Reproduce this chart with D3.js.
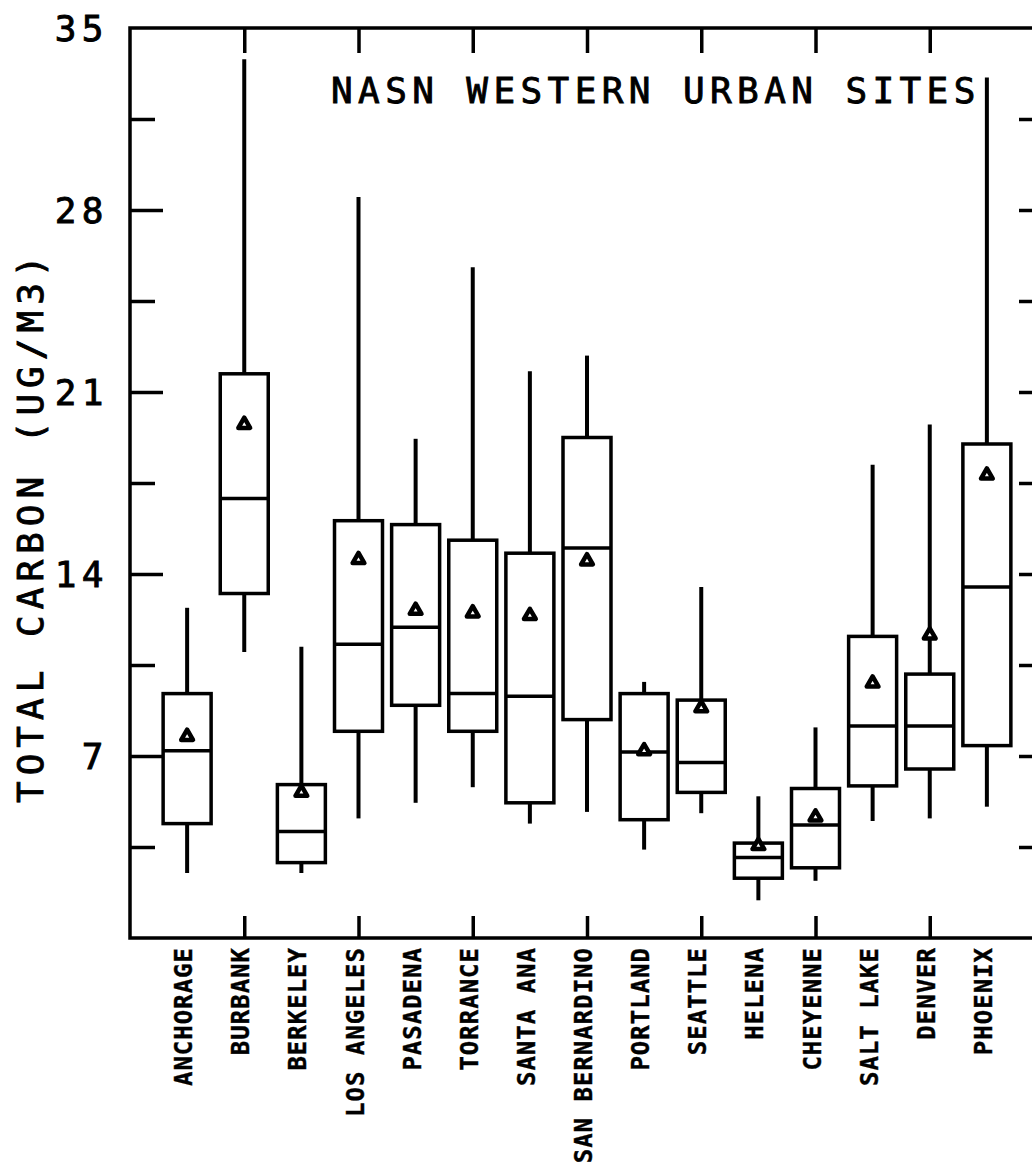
<!DOCTYPE html>
<html>
<head>
<meta charset="utf-8">
<script src="https://cdn.jsdelivr.net/npm/d3@7"></script>
<style>
  html, body { margin: 0; padding: 0; background: #fff; }
  svg { display: block; }
  text { font-family: "DejaVu Sans Mono", "Liberation Mono", monospace; fill: #000; }
</style>
</head>
<body>
<svg id="chart" width="1032" height="1170"></svg>
<script>
// Total carbon (ug/m3) box plots for NASN western urban sites
const sites = ["ANCHORAGE", "BURBANK", "BERKELEY", "LOS ANGELES", "PASADENA", "TORRANCE",
  "SANTA ANA", "SAN BERNARDINO", "PORTLAND", "SEATTLE", "HELENA", "CHEYENNE",
  "SALT LAKE", "DENVER", "PHOENIX"];
const whiskerLow  = [2.5, 11.0, 2.5, 4.6, 5.2, 5.8, 4.4, 4.85, 3.4, 4.8, 1.45, 2.2, 4.5, 4.6, 5.05];
const quartile1   = [4.4, 13.25, 2.9, 7.95, 8.95, 7.95, 5.2, 8.4, 4.55, 5.6, 2.3, 2.7, 5.85, 6.5, 7.4];
const medians     = [7.2, 16.9, 4.1, 11.3, 11.95, 9.4, 9.3, 15.0, 7.15, 6.75, 3.1, 4.35, 8.15, 8.15, 13.5];
const quartile3   = [9.4, 21.7, 5.9, 16.05, 15.9, 15.3, 14.8, 19.25, 9.4, 9.15, 3.65, 5.75, 11.6, 10.15, 19.0];
const whiskerHigh = [12.7, 33.8, 11.2, 28.5, 19.2, 25.8, 21.8, 22.4, 9.85, 13.5, 5.45, 8.1, 18.2, 19.75, 33.1];
const means       = [7.75, 19.75, 5.6, 14.55, 12.6, 12.5, 12.4, 14.5, 7.2, 8.85, 3.55, 4.65, 9.8, 11.65, 17.8];

const majorTicks = [7, 14, 21, 28];
const minorTicks = [3.5, 10.5, 17.5, 24.5, 31.5];
const labelTicks = [7, 14, 21, 28, 35];
const siteTicks  = [2, 4, 6, 8, 10, 12, 14];

const chartTitle = "NASN WESTERN URBAN SITES";
const yTitle = "TOTAL CARBON (UG/M3)";

const data = sites.map((s, i) => ({
  site: s, pos: i + 1,
  lo: whiskerLow[i], q1: quartile1[i], med: medians[i],
  q3: quartile3[i], hi: whiskerHigh[i], mean: means[i]
}));

const svg = d3.select("#chart");
const x = d3.scaleLinear().domain([0, 16]).range([130, 1044]);
const y = d3.scaleLinear().domain([0, 35]).range([938, 28]);
const halfBox = 0.42;
const ink = "#000";

// frame
svg.append("rect")
  .attr("x", x(0)).attr("y", y(35))
  .attr("width", x(16) - x(0)).attr("height", y(0) - y(35))
  .attr("fill", "none").attr("stroke", ink).attr("stroke-width", 3.5);

function styleTicks(g) {
  g.select(".domain").remove();
  g.selectAll(".tick line").attr("stroke", ink).attr("stroke-width", 3.5);
  g.selectAll(".tick text").remove();
}

// inward ticks on the left side
svg.append("g").attr("transform", `translate(${x(0)},0)`)
  .call(d3.axisRight(y).tickValues(majorTicks).tickSize(33)).call(styleTicks);
svg.append("g").attr("transform", `translate(${x(0)},0)`)
  .call(d3.axisRight(y).tickValues(minorTicks).tickSize(25)).call(styleTicks);
// right side ticks
svg.append("g").attr("transform", `translate(${x(16)},0)`)
  .call(d3.axisLeft(y).tickValues(majorTicks.concat(minorTicks)).tickSize(25)).call(styleTicks);
// top and bottom ticks
svg.append("g").attr("transform", `translate(0,${y(35)})`)
  .call(d3.axisBottom(x).tickValues(siteTicks).tickSize(25)).call(styleTicks);
svg.append("g").attr("transform", `translate(0,${y(0)})`)
  .call(d3.axisTop(x).tickValues(siteTicks).tickSize(22)).call(styleTicks);

// y tick labels
const yLab = svg.append("g").attr("transform", `translate(${x(0)},0)`)
  .call(d3.axisLeft(y).tickValues(labelTicks).tickSize(0).tickPadding(21).tickFormat(d3.format("d")));
yLab.select(".domain").remove();
yLab.selectAll(".tick text")
  .attr("font-family", "DejaVu Sans Mono").attr("font-size", 36)
  .attr("letter-spacing", 5.5).attr("dy", "0.36em")
  .attr("stroke", ink).attr("stroke-width", 0.9);

// y axis title
svg.append("text")
  .attr("transform", `translate(43,803) rotate(-90)`)
  .attr("font-size", 36).attr("letter-spacing", 6)
  .attr("stroke", ink).attr("stroke-width", 0.9)
  .text(yTitle);

// chart title
svg.append("text")
  .attr("x", 331).attr("y", 103)
  .attr("font-size", 36).attr("letter-spacing", 5.4)
  .attr("stroke", ink).attr("stroke-width", 0.9)
  .text(chartTitle);

// site labels
svg.append("g").selectAll("text").data(data).join("text")
  .attr("transform", d => `translate(${x(d.pos) + 5},947) rotate(-90)`)
  .attr("text-anchor", "end")
  .attr("font-size", 24).attr("font-weight", "bold").attr("letter-spacing", 1)
  .attr("stroke", ink).attr("stroke-width", 0.4)
  .text(d => d.site);

// box plots
const boxes = svg.append("g").selectAll("g").data(data).join("g");
boxes.append("line")
  .attr("x1", d => x(d.pos)).attr("x2", d => x(d.pos))
  .attr("y1", d => y(d.lo)).attr("y2", d => y(d.q1))
  .attr("stroke", ink).attr("stroke-width", 4);
boxes.append("line")
  .attr("x1", d => x(d.pos)).attr("x2", d => x(d.pos))
  .attr("y1", d => y(d.q3)).attr("y2", d => y(d.hi))
  .attr("stroke", ink).attr("stroke-width", 4);
boxes.append("rect")
  .attr("x", d => x(d.pos - halfBox)).attr("width", d => x(d.pos + halfBox) - x(d.pos - halfBox))
  .attr("y", d => y(d.q3)).attr("height", d => y(d.q1) - y(d.q3))
  .attr("fill", "none").attr("stroke", ink).attr("stroke-width", 3.5);
boxes.append("line")
  .attr("x1", d => x(d.pos - halfBox)).attr("x2", d => x(d.pos + halfBox))
  .attr("y1", d => y(d.med)).attr("y2", d => y(d.med))
  .attr("stroke", ink).attr("stroke-width", 3.5);

// mean markers
const tri = d3.symbol().type(d3.symbolTriangle).size(60);
boxes.append("path")
  .attr("d", tri)
  .attr("transform", d => `translate(${x(d.pos)},${y(d.mean)})`)
  .attr("fill", "#fff").attr("stroke", ink).attr("stroke-width", 4.5)
  .attr("stroke-linejoin", "round");
</script>
</body>
</html>
